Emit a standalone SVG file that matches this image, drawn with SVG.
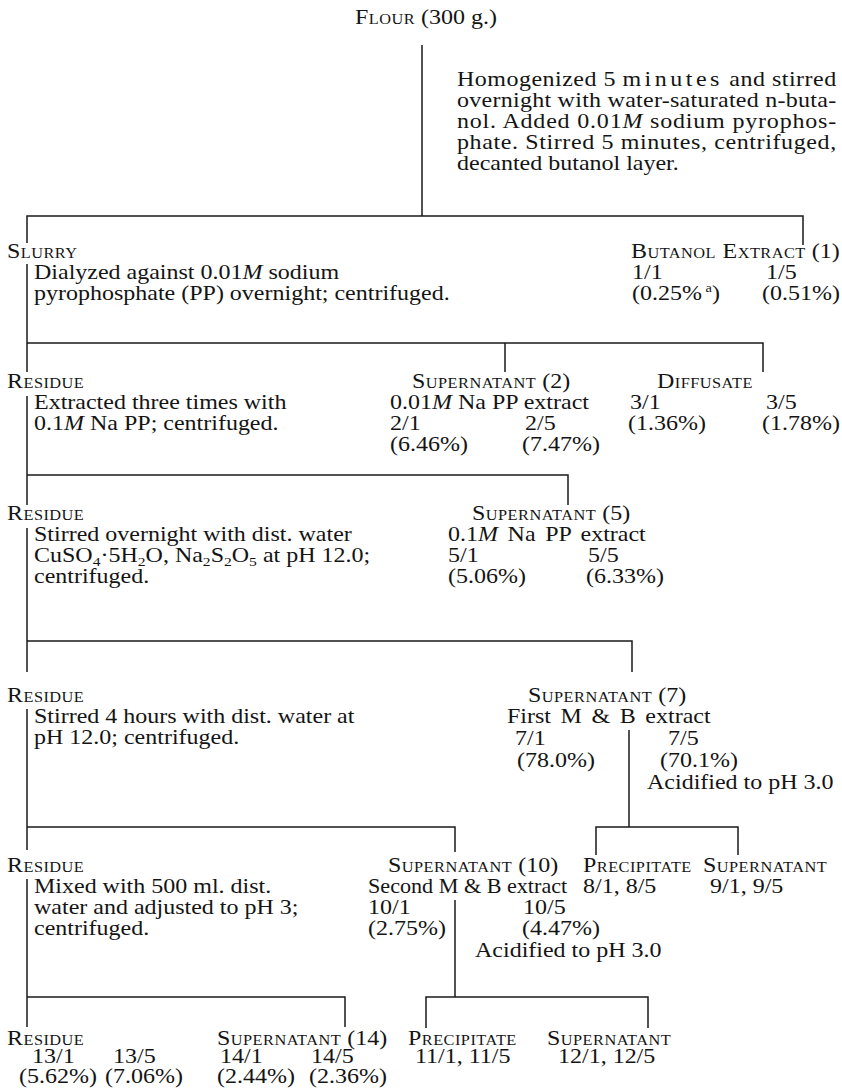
<svg xmlns="http://www.w3.org/2000/svg" width="842" height="1092" viewBox="0 0 842 1092">
<style>
text{font-family:"Liberation Serif","Times New Roman",serif;font-size:20px;fill:#141414}
.sc{font-variant:small-caps;letter-spacing:0.4px}
.i{font-style:italic}
.sub{font-size:13px}
.sup{font-size:12px}
#connectors path{fill:none;stroke:#1a1a1a;stroke-width:1.5}
</style>
<rect width="842" height="1092" fill="#ffffff"/>
<g id="connectors">
<path d="M422 45V216"/>
<path d="M27 243V216H803V245"/>
<path d="M27 264V372"/>
<path d="M27 343H763V372M505 343V372"/>
<path d="M27 396V505"/>
<path d="M27 475H568V505"/>
<path d="M27 528V672"/>
<path d="M27 641H632V672"/>
<path d="M27 709V850"/>
<path d="M27 827H455V852"/>
<path d="M629 730V827"/>
<path d="M596 855V827H738V855"/>
<path d="M27 879V1027"/>
<path d="M27 997H345V1027"/>
<path d="M455 900V997"/>
<path d="M426 1028V997H648V1028"/>
</g>
<g id="flour">
<text transform="matrix(1.2 0 0 1 355 24)"><tspan class="sc">Flour</tspan> (300 g.)</text>
</g>
<g id="step-butanol">
<text transform="matrix(1.2 0 0 1 457 86)" textLength="316" lengthAdjust="spacing">Homogenized 5 <tspan letter-spacing="2.5">minutes</tspan> and stirred</text>
<text transform="matrix(1.2 0 0 1 457 107)" textLength="316" lengthAdjust="spacing">overnight with water-saturated n-buta-</text>
<text transform="matrix(1.2 0 0 1 457 128)" textLength="316" lengthAdjust="spacing">nol. Added 0.01<tspan class="i">M</tspan> sodium pyrophos-</text>
<text transform="matrix(1.2 0 0 1 457 149)" textLength="316" lengthAdjust="spacing">phate. Stirred 5 minutes, centrifuged,</text>
<text transform="matrix(1.2 0 0 1 457 170)">decanted butanol layer.</text>
</g>
<g id="slurry">
<text class="sc" transform="matrix(1.2 0 0 1 7 258)">Slurry</text>
<text transform="matrix(1.2 0 0 1 34 279)">Dialyzed against 0.01<tspan class="i">M</tspan> sodium</text>
<text transform="matrix(1.2 0 0 1 34 300)">pyrophosphate (PP) overnight; centrifuged.</text>
</g>
<g id="butanol-extract">
<text transform="matrix(1.2 0 0 1 631 258)"><tspan class="sc">Butanol Extract</tspan> (1)</text>
<text transform="matrix(1.2 0 0 1 632 279)">1/1</text>
<text transform="matrix(1.2 0 0 1 766 279)">1/5</text>
<text transform="matrix(1.2 0 0 1 632 300)">(0.25%<tspan class="sup" dy="-8"> a</tspan><tspan dy="8">)</tspan></text>
<text transform="matrix(1.2 0 0 1 762 300)">(0.51%)</text>
</g>
<g id="residue-1">
<text class="sc" transform="matrix(1.2 0 0 1 7 388)">Residue</text>
<text transform="matrix(1.2 0 0 1 34 409)">Extracted three times with</text>
<text transform="matrix(1.2 0 0 1 34 430)">0.1<tspan class="i">M</tspan> Na PP; centrifuged.</text>
</g>
<g id="supernatant-2">
<text transform="matrix(1.2 0 0 1 412 388)"><tspan class="sc">Supernatant</tspan> (2)</text>
<text transform="matrix(1.2 0 0 1 390 409)">0.01<tspan class="i">M</tspan> Na PP extract</text>
<text transform="matrix(1.2 0 0 1 390 430)">2/1</text>
<text transform="matrix(1.2 0 0 1 525 430)">2/5</text>
<text transform="matrix(1.2 0 0 1 390 451)">(6.46%)</text>
<text transform="matrix(1.2 0 0 1 522 451)">(7.47%)</text>
</g>
<g id="diffusate">
<text class="sc" transform="matrix(1.2 0 0 1 657 388)">Diffusate</text>
<text transform="matrix(1.2 0 0 1 630 409)">3/1</text>
<text transform="matrix(1.2 0 0 1 766 409)">3/5</text>
<text transform="matrix(1.2 0 0 1 628 430)">(1.36%)</text>
<text transform="matrix(1.2 0 0 1 762 430)">(1.78%)</text>
</g>
<g id="residue-2">
<text class="sc" transform="matrix(1.2 0 0 1 7 520)">Residue</text>
<text transform="matrix(1.2 0 0 1 34 541)">Stirred overnight with dist. water</text>
<text transform="matrix(1.2 0 0 1 34 562)">CuSO<tspan class="sub" dy="4">4</tspan><tspan dy="-4">·5H</tspan><tspan class="sub" dy="4">2</tspan><tspan dy="-4">O, Na</tspan><tspan class="sub" dy="4">2</tspan><tspan dy="-4">S</tspan><tspan class="sub" dy="4">2</tspan><tspan dy="-4">O</tspan><tspan class="sub" dy="4">5</tspan><tspan dy="-4"> at pH 12.0;</tspan></text>
<text transform="matrix(1.2 0 0 1 34 583)">centrifuged.</text>
</g>
<g id="supernatant-5">
<text transform="matrix(1.2 0 0 1 472 520)"><tspan class="sc">Supernatant</tspan> (5)</text>
<text transform="matrix(1.2 0 0 1 448 541)" word-spacing="3">0.1<tspan class="i">M</tspan> Na PP extract</text>
<text transform="matrix(1.2 0 0 1 448 562)">5/1</text>
<text transform="matrix(1.2 0 0 1 588 562)">5/5</text>
<text transform="matrix(1.2 0 0 1 448 583)">(5.06%)</text>
<text transform="matrix(1.2 0 0 1 586 583)">(6.33%)</text>
</g>
<g id="residue-3">
<text class="sc" transform="matrix(1.2 0 0 1 7 702)">Residue</text>
<text transform="matrix(1.2 0 0 1 34 723)">Stirred 4 hours with dist. water at</text>
<text transform="matrix(1.2 0 0 1 34 744)">pH 12.0; centrifuged.</text>
</g>
<g id="supernatant-7">
<text transform="matrix(1.2 0 0 1 528 702)"><tspan class="sc">Supernatant</tspan> (7)</text>
<text transform="matrix(1.2 0 0 1 507 723)" word-spacing="3">First M &amp; B extract</text>
<text transform="matrix(1.2 0 0 1 515 745)">7/1</text>
<text transform="matrix(1.2 0 0 1 517 767)">(78.0%)</text>
<text transform="matrix(1.2 0 0 1 668 745)">7/5</text>
<text transform="matrix(1.2 0 0 1 660 767)">(70.1%)</text>
<text transform="matrix(1.2 0 0 1 647 789)">Acidified to pH 3.0</text>
</g>
<g id="residue-4">
<text class="sc" transform="matrix(1.2 0 0 1 7 872)">Residue</text>
<text transform="matrix(1.2 0 0 1 34 893)">Mixed with 500 ml. dist.</text>
<text transform="matrix(1.2 0 0 1 34 914)">water and adjusted to pH 3;</text>
<text transform="matrix(1.2 0 0 1 34 935)">centrifuged.</text>
</g>
<g id="supernatant-10">
<text transform="matrix(1.2 0 0 1 388 872)"><tspan class="sc">Supernatant</tspan> (10)</text>
<text transform="matrix(1.2 0 0 1 368 893)" textLength="166" lengthAdjust="spacingAndGlyphs">Second M &amp; B extract</text>
<text transform="matrix(1.2 0 0 1 368 914)">10/1</text>
<text transform="matrix(1.2 0 0 1 368 935)">(2.75%)</text>
<text transform="matrix(1.2 0 0 1 523 914)">10/5</text>
<text transform="matrix(1.2 0 0 1 522 935)">(4.47%)</text>
<text transform="matrix(1.2 0 0 1 475 957)">Acidified to pH 3.0</text>
</g>
<g id="precipitate-8">
<text class="sc" transform="matrix(1.2 0 0 1 583 872)">Precipitate</text>
<text transform="matrix(1.2 0 0 1 583 893)">8/1, 8/5</text>
</g>
<g id="supernatant-9">
<text class="sc" transform="matrix(1.2 0 0 1 703 872)">Supernatant</text>
<text transform="matrix(1.2 0 0 1 710 893)">9/1, 9/5</text>
</g>
<g id="residue-5">
<text class="sc" transform="matrix(1.2 0 0 1 7 1045)">Residue</text>
<text transform="matrix(1.2 0 0 1 32 1063)">13/1</text>
<text transform="matrix(1.2 0 0 1 113 1063)">13/5</text>
<text transform="matrix(1.2 0 0 1 19 1083)">(5.62%)</text>
<text transform="matrix(1.2 0 0 1 105 1083)">(7.06%)</text>
</g>
<g id="supernatant-14">
<text transform="matrix(1.2 0 0 1 217 1045)"><tspan class="sc">Supernatant</tspan> (14)</text>
<text transform="matrix(1.2 0 0 1 220 1063)">14/1</text>
<text transform="matrix(1.2 0 0 1 311 1063)">14/5</text>
<text transform="matrix(1.2 0 0 1 217 1083)">(2.44%)</text>
<text transform="matrix(1.2 0 0 1 309 1083)">(2.36%)</text>
</g>
<g id="precipitate-11">
<text class="sc" transform="matrix(1.2 0 0 1 408 1045)">Precipitate</text>
<text transform="matrix(1.2 0 0 1 415 1063)">11/1, 11/5</text>
</g>
<g id="supernatant-12">
<text class="sc" transform="matrix(1.2 0 0 1 547 1045)">Supernatant</text>
<text transform="matrix(1.2 0 0 1 558 1063)">12/1, 12/5</text>
</g>
</svg>
